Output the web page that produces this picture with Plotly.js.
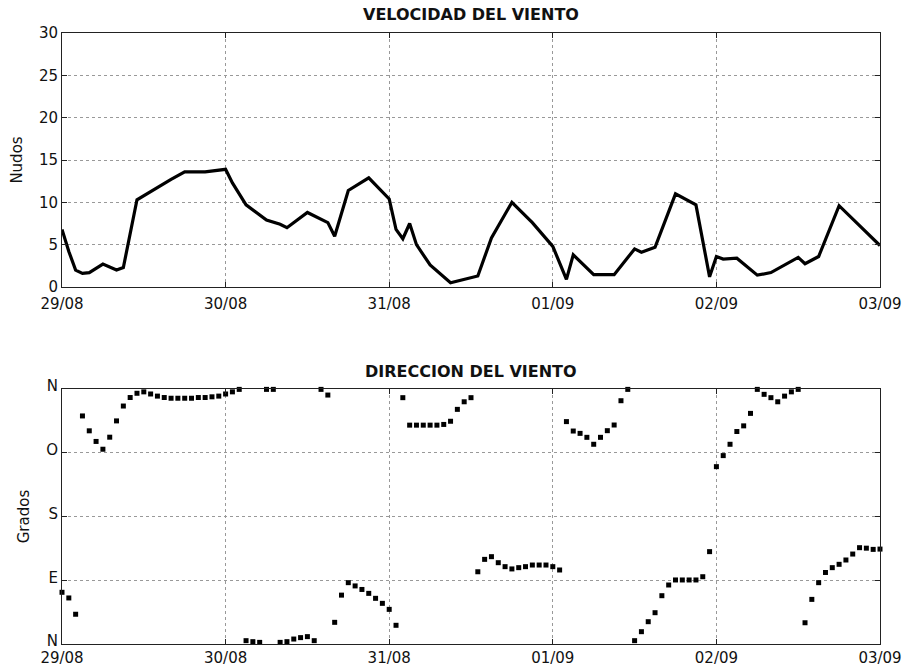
<!DOCTYPE html>
<html>
<head>
<meta charset="utf-8">
<script src="https://cdn.plot.ly/plotly-3.0.1.min.js"></script>
<style>
  html, body { margin: 0; padding: 0; background: #fff; }
  #chart { width: 907px; height: 667px; }
</style>
</head>
<body>
<div id="chart"></div>
<script>
// Hours since 29/08 00:00 and wind speed (knots)
const speedHours = [0, 1, 2, 3, 4, 6, 8, 9, 11, 12, 14, 16, 18, 21, 24, 25, 27, 30, 32, 33,
  36, 39, 40, 42, 45, 47, 48, 49, 50, 51, 52, 54, 55.5, 57, 61, 63, 66, 69, 72, 74,
  75, 78, 81, 84, 85, 87, 90, 93, 95, 96, 97, 99, 102, 104, 108, 109, 111, 114, 120];
const speedKnots = [6.8, 4.2, 2.0, 1.6, 1.7, 2.7, 2.0, 2.3, 10.3, 10.8, 11.7, 12.7, 13.6, 13.6, 13.9, 12.3, 9.7, 7.9, 7.4, 7.0,
  8.8, 7.6, 6.0, 11.4, 12.9, 11.2, 10.4, 6.8, 5.7, 7.5, 5.0, 2.6, 1.6, 0.5, 1.3, 5.8, 10.0, 7.6, 4.8, 0.9,
  3.8, 1.45, 1.45, 4.5, 4.1, 4.7, 11.0, 9.7, 1.2, 3.6, 3.3, 3.4, 1.4, 1.7, 3.5, 2.75, 3.6, 9.6, 4.9];

// Hourly wind direction (degrees, 0 = N)
const dirHours = [0, 1, 2, 3, 4, 5, 6, 7, 8, 9, 10, 11, 12, 13, 14, 15, 16, 17, 18, 19, 20,
  21, 22, 23, 24, 25, 26, 27, 28, 29, 30, 31, 32, 33, 34, 35, 36, 37, 38, 39, 40,
  41, 42, 43, 44, 45, 46, 47, 48, 49, 50, 51, 52, 53, 54, 55, 56, 57, 58, 59, 60,
  61, 62, 63, 64, 65, 66, 67, 68, 69, 70, 71, 72, 73, 74, 75, 76, 77, 78, 79, 80,
  81, 82, 83, 84, 85, 86, 87, 88, 89, 90, 91, 92, 93, 94, 95, 96, 97, 98, 99, 100,
  101, 102, 103, 104, 105, 106, 107, 108, 109, 110, 111, 112, 113, 114, 115, 116, 117, 118, 119, 120];
const dirDegrees = [73, 65, 42, 322, 301, 286, 275, 292, 315, 336, 348, 354, 356, 353, 350, 348, 347, 347, 347, 347, 348,
  348, 349, 350, 353, 356, 359.5, 4.7, 3.3, 2.3, 359.5, 359.5, 2.3, 3.3, 7, 9, 10.4, 4.7, 359.5, 351.5, 30.6,
  69, 86.6, 82, 77, 71.5, 64.5, 57.4, 48.9, 26.4, 347.8, 309, 309, 309, 309, 309, 310, 314.5, 331.3, 342, 347.8,
  102, 119.5, 123.3, 114.8, 109.2, 106, 107.8, 109.2, 111.5, 111.5, 111.5, 109.2, 104.5, 314, 300.7, 297.4, 291.8, 282, 291.8, 301.2,
  309.2, 343.5, 359.5, 4.7, 17.4, 31.5, 44.2, 68.2, 83.3, 90.4, 90.4, 90.4, 90.4, 95, 130.4, 250.4, 266, 282, 300, 308,
  325.6, 359.5, 352.5, 347.8, 342, 350, 356, 359.5, 30, 63, 86.6, 101, 107.8, 112.5, 118.6, 127, 136, 135.3, 133.6, 134];

// Axis ticks
const dayTickHours = [0, 24, 48, 72, 96, 120];
const dayTickLabels = ['29/08', '30/08', '31/08', '01/09', '02/09', '03/09'];
const speedTicks = [0, 5, 10, 15, 20, 25, 30];
const dirTickValues = [0, 90, 180, 270, 360];
const dirTickLabels = ['N', 'E', 'S', 'O', 'N'];

const FONT = 'DejaVu Sans, sans-serif';
const tickFont = { family: FONT, size: 15, color: '#111' };
const axisTitleFont = { family: FONT, size: 15, color: '#111' };

const baseAxis = {
  showline: true,
  linecolor: '#222',
  linewidth: 1,
  mirror: 'ticks',
  ticks: 'inside',
  ticklen: 5,
  tickcolor: '#222',
  showgrid: true,
  gridcolor: '#999',
  griddash: 'dot',
  gridwidth: 1,
  zeroline: false,
  tickfont: tickFont
};

const traces = [
  {
    x: speedHours, y: speedKnots,
    xaxis: 'x', yaxis: 'y',
    type: 'scatter', mode: 'lines',
    line: { color: '#000', width: 3.2 },
    hoverinfo: 'x+y'
  },
  {
    x: dirHours, y: dirDegrees,
    xaxis: 'x2', yaxis: 'y2',
    type: 'scatter', mode: 'markers',
    marker: { symbol: 'square', size: 5, color: '#000' },
    cliponaxis: false,
    hoverinfo: 'x+y'
  }
];

const layout = {
  width: 907, height: 667,
  margin: { l: 62, r: 27, t: 33, b: 23 },
  paper_bgcolor: '#fff', plot_bgcolor: '#fff',
  showlegend: false,
  font: { family: FONT, color: '#111' },
  xaxis: Object.assign({}, baseAxis, {
    domain: [0, 1], anchor: 'y',
    range: [0, 120], tickvals: dayTickHours, ticktext: dayTickLabels,
    ticklabelstandoff: 3
  }),
  yaxis: Object.assign({}, baseAxis, {
    domain: [0.5843, 1], anchor: 'x',
    range: [0, 30], tickvals: speedTicks,
    title: { text: 'Nudos', font: axisTitleFont, standoff: 12 }
  }),
  xaxis2: Object.assign({}, baseAxis, {
    domain: [0, 1], anchor: 'y2',
    range: [0, 120], tickvals: dayTickHours, ticktext: dayTickLabels,
    ticklabelstandoff: 0
  }),
  yaxis2: Object.assign({}, baseAxis, {
    domain: [0, 0.4173], anchor: 'x2',
    range: [0, 360], tickvals: dirTickValues, ticktext: dirTickLabels,
    ticklabelshift: -3,
    title: { text: 'Grados', font: axisTitleFont, standoff: 12 }
  }),
  annotations: [
    {
      text: '<b>VELOCIDAD DEL VIENTO</b>',
      xref: 'paper', yref: 'paper', x: 0.5, y: 1.0295,
      xanchor: 'center', yanchor: 'middle', showarrow: false,
      font: { family: FONT, size: 16, color: '#111' }
    },
    {
      text: '<b>DIRECCION DEL VIENTO</b>',
      xref: 'paper', yref: 'paper', x: 0.5, y: 0.4468,
      xanchor: 'center', yanchor: 'middle', showarrow: false,
      font: { family: FONT, size: 16, color: '#111' }
    }
  ]
};

Plotly.newPlot('chart', traces, layout, { staticPlot: true, displayModeBar: false });
</script>
</body>
</html>
